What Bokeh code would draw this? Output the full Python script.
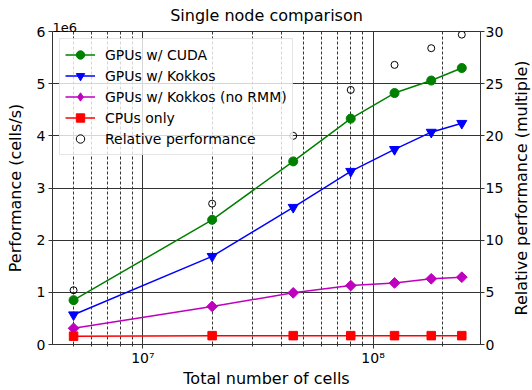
import math
from bokeh.plotting import figure
from bokeh.layouts import row
from bokeh.models import (Range1d, LinearAxis, FixedTicker, CustomJSTickFormatter,
                          Legend, LegendItem, Title)
from bokeh.embed import file_html
from bokeh.resources import INLINE

# ---- data ----
cells = [5.0e6, 2.0e7, 4.5e7, 8.0e7, 1.24e8, 1.79e8, 2.43e8]
cuda = [0.85e6, 2.39e6, 3.51e6, 4.33e6, 4.82e6, 5.06e6, 5.30e6]
kokkos = [0.57e6, 1.69e6, 2.63e6, 3.32e6, 3.74e6, 4.07e6, 4.24e6]
kokkos_normm = [0.31e6, 0.73e6, 0.99e6, 1.13e6, 1.18e6, 1.26e6, 1.29e6]
cpu = [0.16e6, 0.17e6, 0.17e6, 0.17e6, 0.17e6, 0.17e6, 0.17e6]
relative = [5.2, 13.5, 20.0, 24.4, 26.8, 28.4, 29.7]

x_major = [1e7, 1e8]
x_minor = [5e6, 6e6, 7e6, 8e6, 9e6, 2e7, 3e7, 4e7, 5e7, 6e7, 7e7, 8e7, 9e7, 2e8]
y_ticks = [0, 1e6, 2e6, 3e6, 4e6, 5e6, 6e6]
rel_ticks = [0, 5, 10, 15, 20, 25, 30]

FONT = "DejaVu Sans"
GRID = "#333333"
X_START, X_END = 4.05e6, 2.93e8
TOTAL_W, TOTAL_H = 532, 390
STRIP_W = 24          # narrow strip holding the right-hand axis title
TOP, BOTTOM = 31, 42  # borders around the plotting frame

p = figure(width=TOTAL_W - STRIP_W, height=TOTAL_H, x_axis_type="log",
           x_range=Range1d(X_START, X_END), y_range=Range1d(0, 6e6),
           output_backend="svg", toolbar_location=None,
           title="Single node comparison")
p.min_border_left = 52
p.min_border_top = TOP
p.min_border_right = 28
p.min_border_bottom = BOTTOM
p.background_fill_color = "white"
p.border_fill_color = "white"
p.outline_line_color = GRID
p.outline_line_width = 1

p.title.align = "center"
p.title.text_font = FONT
p.title.text_font_size = "16px"
p.title.text_font_style = "normal"
p.title.text_color = "black"
p.title.standoff = -9

# "1e6" offset text, just above the frame's top-left corner
offset_text = Title(text="1e6", align="left", text_font=FONT,
                    text_font_size="13px", text_font_style="normal",
                    text_color="black", standoff=0)
p.add_layout(offset_text, "above")

p.extra_y_ranges = {"rel": Range1d(0, 30)}

# axes
xa = p.xaxis[0]
xa.ticker = FixedTicker(ticks=x_major, minor_ticks=x_minor)
xa.formatter = CustomJSTickFormatter(code="""
const sup = {'0':'\u2070','1':'\u00b9','2':'\u00b2','3':'\u00b3','4':'\u2074','5':'\u2075','6':'\u2076','7':'\u2077','8':'\u2078','9':'\u2079'};
const e = String(Math.round(Math.log10(tick)));
return '10' + e.split('').map(c => sup[c]).join('');
""")
xa.axis_label = "Total number of cells"

ya = p.yaxis[0]
ya.ticker = FixedTicker(ticks=y_ticks)
ya.formatter = CustomJSTickFormatter(code="return (tick/1e6).toFixed(0);")
ya.axis_label = "Performance (cells/s)"

ra = LinearAxis(y_range_name="rel", ticker=FixedTicker(ticks=rel_ticks))
p.add_layout(ra, "right")

for ax in [xa, ya, ra]:
    ax.axis_line_color = GRID
    ax.major_tick_line_color = GRID
    ax.minor_tick_line_color = GRID
    ax.major_tick_in = 0
    ax.major_tick_out = 4
    ax.minor_tick_in = 0
    ax.minor_tick_out = 2
    ax.major_label_text_font = FONT
    ax.major_label_text_font_size = "14px"
    ax.major_label_text_color = "black"
    ax.axis_label_text_font = FONT
    ax.axis_label_text_font_size = "16px"
    ax.axis_label_text_font_style = "normal"
    ax.axis_label_text_color = "black"
    ax.major_label_standoff = 3
    ax.axis_label_standoff = 0
ya.axis_label_standoff = 9
xa.major_label_standoff = 1
ra.major_label_standoff = 1
ya.minor_tick_line_color = None
ra.minor_tick_line_color = None

# grids
p.xgrid.ticker = xa.ticker
p.xgrid.grid_line_color = GRID
p.xgrid.grid_line_width = 1
p.xgrid.minor_grid_line_color = GRID
p.xgrid.minor_grid_line_dash = "3 2"
p.xgrid.minor_grid_line_width = 1
p.ygrid.ticker = ya.ticker
p.ygrid.grid_line_color = GRID
p.ygrid.grid_line_width = 1

# series
items = []
def series(y, color, marker, size, label, angle=0.0, legend_marker=None, legend_size=None):
    l = p.line(cells, y, line_color=color, line_width=1.5)
    s = p.scatter(cells, y, marker=marker, size=size, angle=angle,
                  fill_color=color, line_color=color)
    rs = [l, s]
    if legend_marker is not None:
        # legend-only swatch, placed outside the visible ranges
        d = p.scatter(x=[X_START / 10], y=[-1e9], marker=legend_marker, size=legend_size,
                      fill_color=color, line_color=color)
        rs = [l, d]
    items.append(LegendItem(label=label, renderers=rs))

series(cuda, "#008000", "circle", 9, "GPUs w/ CUDA")
series(kokkos, "#0000ff", "inverted_triangle", 10, "GPUs w/ Kokkos")
series(kokkos_normm, "#bf00bf", "square", 7.6, "GPUs w/ Kokkos (no RMM)",
       angle=math.pi / 4, legend_marker="diamond", legend_size=14)
series(cpu, "#ff0000", "square", 8.5, "CPUs only")
rel_r = p.scatter(cells, relative, y_range_name="rel", marker="circle", size=7,
                  fill_color=None, line_color="black", line_width=1)
items.append(LegendItem(label="Relative performance", renderers=[rel_r]))

leg = Legend(items=items, location="top_left")
leg.margin = 7
leg.padding = 5
leg.spacing = 0
leg.label_text_font = FONT
leg.label_text_font_size = "14px"
leg.label_text_color = "black"
leg.label_height = 21
leg.glyph_height = 21
leg.glyph_width = 30
leg.label_standoff = 10
leg.border_line_color = "#cccccc"
leg.border_line_width = 1
leg.background_fill_color = "white"
leg.background_fill_alpha = 0.8
p.add_layout(leg, "center")

# narrow strip: its left-axis title reads bottom-to-top like the reference's right title
q = figure(width=STRIP_W, height=TOTAL_H, output_backend="svg", toolbar_location=None,
           x_range=Range1d(0, 1), y_range=Range1d(0, 30))
q.min_border_left = 18
q.min_border_right = 0
q.min_border_top = TOP
q.min_border_bottom = BOTTOM
q.outline_line_color = None
q.background_fill_color = "white"
q.border_fill_color = "white"
q.xaxis.visible = False
q.xgrid.visible = False
q.ygrid.visible = False
qa = q.yaxis[0]
qa.ticker = FixedTicker(ticks=[])
qa.axis_label = "Relative performance (multiple)"
qa.axis_label_text_font = FONT
qa.axis_label_text_font_size = "16px"
qa.axis_label_text_font_style = "normal"
qa.axis_label_text_color = "black"
qa.axis_label_standoff = 0
qa.axis_line_color = None
qa.major_tick_line_color = None
qa.minor_tick_line_color = None
qa.major_label_standoff = 0
qa.major_tick_out = 0
qa.minor_tick_out = 0

layout = row(p, q, spacing=0)

open("out.html", "w").write(file_html(layout, INLINE))
